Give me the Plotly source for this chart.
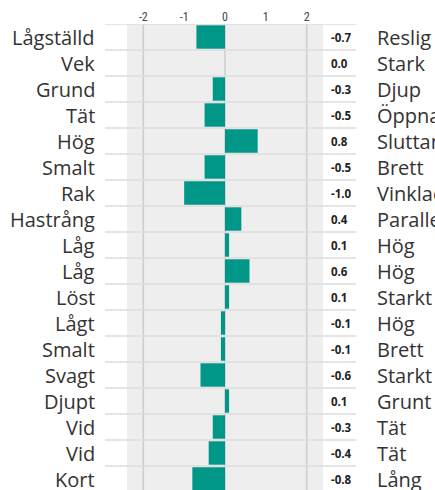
import plotly.graph_objects as go

left_labels = ["Lågställd", "Vek", "Grund", "Tät", "Hög", "Smalt", "Rak", "Hastrång",
               "Låg", "Låg", "Löst", "Lågt", "Smalt", "Svagt", "Djupt", "Vid", "Vid", "Kort"]
right_labels = ["Reslig", "Stark", "Djup", "Öppna", "Sluttande", "Brett", "Vinklad", "Parallell",
                "Hög", "Hög", "Starkt", "Hög", "Brett", "Starkt", "Grunt", "Tät", "Tät", "Lång"]
values = [-0.7, 0.0, -0.3, -0.5, 0.8, -0.5, -1.0, 0.4,
          0.1, 0.6, 0.1, -0.1, -0.1, -0.6, 0.1, -0.3, -0.4, -0.8]
tick_vals = [-2, -1, 0, 1, 2]

n = len(values)
rows = list(range(n))
W, H = 435, 490
ml, mr, mt = 127, 112, 24
row_h = 26
plot_w = W - ml - mr
y_bottom = -0.5 + (H - mt) / row_h

fig = go.Figure()
fig.add_trace(go.Bar(x=values, y=rows, orientation="h", marker_color="#009688",
                     marker_line_width=0, width=0.9, hoverinfo="skip"))

font_lbl = "Open Sans, sans-serif"
ann = []
for i in rows:
    ann.append(dict(x=0, xref="paper", y=i, yref="y", text=left_labels[i], showarrow=False,
                    xanchor="right", xshift=-30, font=dict(family=font_lbl, size=20, color="#333333")))
    ann.append(dict(x=1, xref="paper", y=i, yref="y", text="<b>%.1f</b>" % values[i], showarrow=False,
                    xanchor="left", xshift=6, font=dict(family=font_lbl, size=11.5, color="#222222")))
    ann.append(dict(x=1, xref="paper", y=i, yref="y", text=right_labels[i], showarrow=False,
                    xanchor="left", xshift=52, font=dict(family=font_lbl, size=20, color="#333333")))

shapes = []
x0p = (105 - ml) / plot_w
x1p = (356 - ml) / plot_w
for i in range(-1, n):
    shapes.append(dict(type="line", xref="paper", yref="y", x0=x0p, x1=x1p, y0=i + 0.5, y1=i + 0.5,
                       line=dict(color="#dddddd", width=1.5), layer="above"))
for v in [-2, 0, 2]:
    shapes.append(dict(type="line", xref="x", yref="paper", x0=v, x1=v, y0=0, y1=1,
                       line=dict(color="#cccccc", width=1.5), layer="below"))

fig.update_layout(
    width=W, height=H,
    margin=dict(l=ml, r=mr, t=mt, b=0),
    paper_bgcolor="white", plot_bgcolor="#eeeeee",
    showlegend=False, bargap=0.1,
    annotations=ann, shapes=shapes,
    xaxis=dict(range=[-2.4, 2.4], side="top", tickvals=tick_vals, ticktext=[str(t) for t in tick_vals],
               showgrid=False, zeroline=False, showline=False, ticks="",
               tickfont=dict(family="Roboto Condensed, Roboto, sans-serif", size=12, color="#444444")),
    yaxis=dict(range=[y_bottom, -0.5], showticklabels=False, showgrid=False, zeroline=False,
               showline=False, ticks=""),
)

fig.write_html("out.html", config={"displayModeBar": False},
               post_script="document.body.style.margin='0';document.body.style.overflow='hidden';")
